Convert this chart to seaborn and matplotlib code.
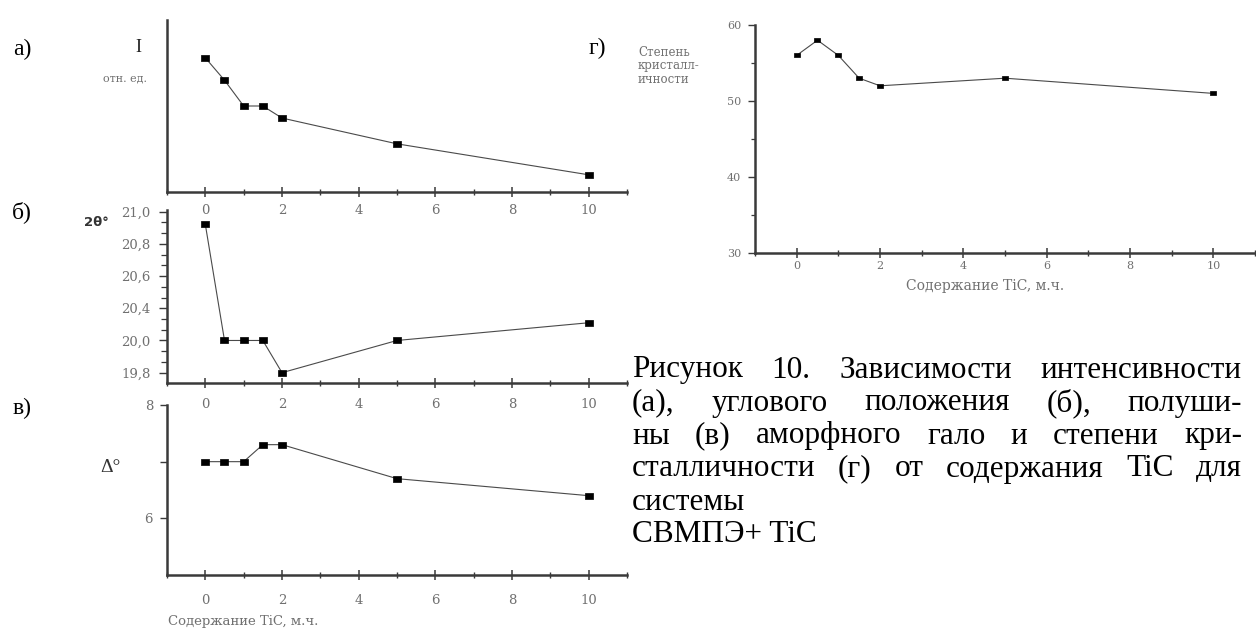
import numpy as np
import matplotlib
matplotlib.use("Agg")
import matplotlib.pyplot as plt
import seaborn as sns
from matplotlib.ticker import FixedLocator, FixedFormatter, MultipleLocator, NullLocator, NullFormatter

# ---- data: TiC content (м.ч.) and measured properties ----
tic = [0, 0.5, 1, 1.5, 2, 5, 10]
intensity = [0.78, 0.65, 0.50, 0.50, 0.43, 0.28, 0.10]      # I, отн. ед.
two_theta = [20.92, 20.0, 20.0, 20.0, 19.8, 20.0, 20.22]     # 2θ°
halfwidth = [7.0, 7.0, 7.0, 7.3, 7.3, 6.7, 6.4]              # Δ°
crystallinity = [56, 58, 56, 53, 52, 53, 51]                 # степень кристалличности

x_ticks = [0, 2, 4, 6, 8, 10]
theta_ticks = [19.8, 20.0, 20.4, 20.6, 20.8, 21.0]
theta_labels = ["19,8", "20,0", "20,4", "20,6", "20,8", "21,0"]
delta_ticks = [6, 8]
cryst_ticks = [30, 40, 50, 60]

caption_lines = [
    "Рисунок 10. Зависимости интенсивности",
    "(а), углового положения (б), полуши-",
    "ны (в) аморфного гало и степени кри-",
    "сталличности (г) от содержания TiC для",
    "системы",
    "СВМПЭ+ TiC",
]

sns.set_style("ticks")
plt.rcParams["font.family"] = ["Liberation Serif", "DejaVu Serif"]

W, H = 1256, 630
fig = plt.figure(figsize=(W / 100, H / 100), dpi=100)
fig.patch.set_facecolor("white")

AX_COL = "#3a3a3a"
TXT_COL = "#707070"
SMALL = ["DejaVu Serif"]

# flat rectangular data marker
RECT = [(-1, -0.7), (1, -0.7), (1, 0.7), (-1, 0.7), (-1, -0.7)]


def px_axes(left, top, right, bottom):
    return fig.add_axes([left / W, 1 - bottom / H, (right - left) / W, (bottom - top) / H])


def style_axes(ax, xpad, xsize=9.5):
    for s in ("top", "right"):
        ax.spines[s].set_visible(False)
    for s in ("left", "bottom"):
        ax.spines[s].set_linewidth(1.8)
        ax.spines[s].set_color(AX_COL)
    # transparent background so stacked panels do not hide each other's labels
    ax.patch.set_visible(False)
    ax.set_xlim(-1, 11)
    ax.xaxis.set_major_locator(FixedLocator(x_ticks))
    ax.xaxis.set_minor_locator(MultipleLocator(1))
    ax.tick_params(axis="x", which="major", direction="inout", length=7, width=1.1,
                   color=AX_COL, labelsize=xsize, labelcolor=TXT_COL, pad=xpad)
    ax.tick_params(axis="x", which="minor", direction="inout", length=4, width=1.0, color=AX_COL)
    ax.tick_params(axis="y", which="both", direction="out", color=AX_COL,
                   labelsize=9.5, labelcolor=TXT_COL)
    for lab in ax.get_xticklabels() + ax.get_yticklabels():
        lab.set_family(SMALL)
    ax.set_xlabel("")
    ax.set_ylabel("")


def draw_series(ax, y, ms=6):
    sns.lineplot(x=tic, y=y, ax=ax, color="#4a4a4a", linewidth=0.8,
                 marker=RECT, markersize=ms, markerfacecolor="black",
                 markeredgecolor="black", markeredgewidth=0.5)


# ---- а) intensity ----
ax_a = px_axes(167, 20, 627, 192)
draw_series(ax_a, intensity)
ax_a.set_ylim(0, 1)
ax_a.yaxis.set_major_locator(NullLocator())
ax_a.yaxis.set_minor_locator(NullLocator())
style_axes(ax_a, 5.5)

# ---- б) angular position, axis labelled as printed ----
knots_v = np.array([18.8, 19.8, 20.0, 20.4, 20.6, 20.8, 21.0, 22.0])
knots_p = np.array([-5.0, 0.0, 1.0, 2.0, 3.0, 4.0, 5.0, 10.0])


def fwd(v):
    return np.interp(v, knots_v, knots_p)


def inv(p):
    return np.interp(p, knots_p, knots_v)


ax_b = px_axes(167, 210, 627, 383)
ax_b.set_yscale("function", functions=(fwd, inv))
draw_series(ax_b, two_theta)
ax_b.set_ylim(inv(-0.32), inv(5.05))
ax_b.yaxis.set_major_locator(FixedLocator(theta_ticks))
ax_b.yaxis.set_major_formatter(FixedFormatter(theta_labels))
minor_p = [p + f for p in range(0, 5) for f in (1 / 3, 2 / 3)]
ax_b.yaxis.set_minor_locator(FixedLocator(list(inv(np.array(minor_p)))))
ax_b.yaxis.set_minor_formatter(NullFormatter())
style_axes(ax_b, 7)
ax_b.tick_params(axis="y", which="major", length=6, width=1.0, pad=6)
ax_b.tick_params(axis="y", which="minor", length=4, width=0.9)

# ---- в) half-width ----
ax_v = px_axes(167, 405, 627, 575)
draw_series(ax_v, halfwidth)
ax_v.set_ylim(5, 8)
ax_v.yaxis.set_major_locator(FixedLocator(delta_ticks))
ax_v.yaxis.set_minor_locator(FixedLocator([7]))
style_axes(ax_v, 10)
ax_v.tick_params(axis="y", which="major", length=5, width=1.0, pad=5)
ax_v.tick_params(axis="y", which="minor", length=5, width=1.0)

# ---- г) crystallinity ----
ax_g = px_axes(755, 25, 1255, 253)
draw_series(ax_g, crystallinity, ms=4.8)
ax_g.set_ylim(30, 60)
ax_g.yaxis.set_major_locator(FixedLocator(cryst_ticks))
ax_g.yaxis.set_minor_locator(MultipleLocator(5))
style_axes(ax_g, 2.5, xsize=8)
ax_g.tick_params(axis="y", which="major", length=5, width=1.0, pad=5, labelsize=8)
ax_g.tick_params(axis="y", which="minor", length=3, width=0.9)


def ftext(x, y, s, **kw):
    return fig.text(x / W, 1 - y / H, s, **kw)


# panel letters
for lx, ly, s in [(22, 49, "а)"), (22, 212, "б)"), (22, 408, "в)"), (597, 48, "г)")]:
    ftext(lx, ly, s, fontsize=17, ha="center", va="center", color="black")

# axis titles
ftext(138, 47, "I", fontsize=13, ha="center", va="center", color="#222")
ftext(125, 78, "отн. ед.", fontsize=8, ha="center", va="center", color=TXT_COL, family=SMALL)
ftext(96, 222, "2θ°", fontsize=9.5, ha="center", va="center", color="#333",
      fontweight="bold", family=["DejaVu Sans"])
ftext(110, 467, "Δ°", fontsize=14, ha="center", va="center", color="#333")
ftext(168, 622, "Содержание TiC, м.ч.", fontsize=9.5, ha="left", va="center",
      color=TXT_COL, family=SMALL)
ftext(985, 286, "Содержание TiC, м.ч.", fontsize=10, ha="center", va="center",
      color=TXT_COL, family=SMALL)
ftext(638, 66, "Степень\nкристалл-\nичности", fontsize=8.5, ha="left", va="center",
      color=TXT_COL, linespacing=1.05, family=SMALL)

# ---- caption, justified ----
cap_left, cap_right = 632, 1242
cap_top, cap_step = 370, 33
cap_size = 22.5
fig.canvas.draw()
renderer = fig.canvas.get_renderer()
for i, line in enumerate(caption_lines):
    y = cap_top + i * cap_step
    words = line.split(" ")
    if i >= 4 or len(words) == 1:
        ftext(cap_left, y, line, fontsize=cap_size, ha="left", va="center", color="black")
        continue
    items = [ftext(cap_left, y, w, fontsize=cap_size, ha="left", va="center", color="black")
             for w in words]
    widths = [t.get_window_extent(renderer).width for t in items]
    gap = (cap_right - cap_left - sum(widths)) / (len(words) - 1)
    x = cap_left
    for t, wd in zip(items, widths):
        t.set_position((x / W, 1 - y / H))
        x += wd + gap

fig.savefig("out.png", dpi=100, facecolor="white")
